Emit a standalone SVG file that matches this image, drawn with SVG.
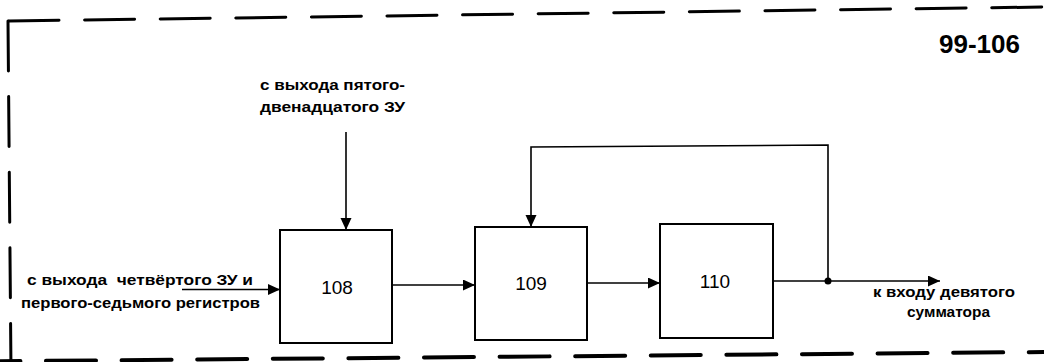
<svg xmlns="http://www.w3.org/2000/svg" width="1044" height="362" viewBox="0 0 1044 362">
  <style>
    .frame { fill: none; stroke: #000; stroke-linecap: round; stroke-dasharray: 50 25.6; }
    .box { fill: #fff; stroke: #000; stroke-width: 2; }
    .wire { fill: none; stroke: #000; stroke-width: 1.6; }
    .num { font-family: "Liberation Sans", Arial, sans-serif; font-size: 19px; fill: #000; text-anchor: middle; }
    .lbl { font-family: "Liberation Sans", Arial, sans-serif; font-size: 15px; font-weight: bold; fill: #000; white-space: pre; }
    .title { font-family: "Liberation Sans", Arial, sans-serif; font-size: 26px; font-weight: bold; fill: #000; text-anchor: end; }
  </style>
  <defs>
    <marker id="arrow" markerUnits="userSpaceOnUse" markerWidth="13" markerHeight="12" refX="12" refY="5.5" orient="auto">
      <path d="M0,0 L12,5.5 L0,11 z" fill="#000"/>
    </marker>
  </defs>
  <rect width="1044" height="362" fill="#fff"/>

  <g id="frame">
    <path class="frame" d="M9,21 L1044,7" stroke-width="3"/>
    <path class="frame" d="M8,21 L11,372" stroke-width="3"/>
    <path class="frame" d="M-29.6,361.5 L1044,352" stroke-width="4"/>
  </g>

  <text id="title" class="title" x="1020" y="53">99-106</text>

  <g id="connectors">
    <path class="wire" d="M346,132 L346,230" marker-end="url(#arrow)"/>
    <path class="wire" d="M182,289.5 L280,289.5" marker-end="url(#arrow)"/>
    <path class="wire" d="M392,285 L475,285" marker-end="url(#arrow)"/>
    <path class="wire" d="M587,283 L660,283" marker-end="url(#arrow)"/>
    <path class="wire" d="M773,281 L940,281" marker-end="url(#arrow)"/>
    <path class="wire" d="M828,281 L828,145 L531,147 L531,227" marker-end="url(#arrow)"/>
    <circle cx="828" cy="281" r="3.5" fill="#000"/>
  </g>

  <g id="label-top">
    <text class="lbl" x="260" y="90" textLength="145" lengthAdjust="spacingAndGlyphs">с выхода пятого-</text>
    <text class="lbl" x="260" y="112" textLength="145" lengthAdjust="spacingAndGlyphs">двенадцатого ЗУ</text>
  </g>

  <g id="label-left">
    <text class="lbl" x="27" y="285" textLength="226" lengthAdjust="spacingAndGlyphs">с выхода  четвёртого ЗУ и</text>
    <text class="lbl" x="21" y="308" textLength="239" lengthAdjust="spacingAndGlyphs">первого-седьмого регистров</text>
  </g>

  <g id="label-right">
    <text class="lbl" x="873" y="297" textLength="142" lengthAdjust="spacingAndGlyphs">к входу девятого</text>
    <text class="lbl" x="907" y="317" textLength="83" lengthAdjust="spacingAndGlyphs">сумматора</text>
  </g>

  <g id="node-108">
    <rect class="box" x="280" y="230" width="112" height="113"/>
    <text class="num" x="337" y="294">108</text>
  </g>
  <g id="node-109">
    <rect class="box" x="475" y="227" width="112" height="113"/>
    <text class="num" x="531" y="290">109</text>
  </g>
  <g id="node-110">
    <rect class="box" x="660" y="224" width="113" height="114"/>
    <text class="num" x="715" y="288">110</text>
  </g>
</svg>
